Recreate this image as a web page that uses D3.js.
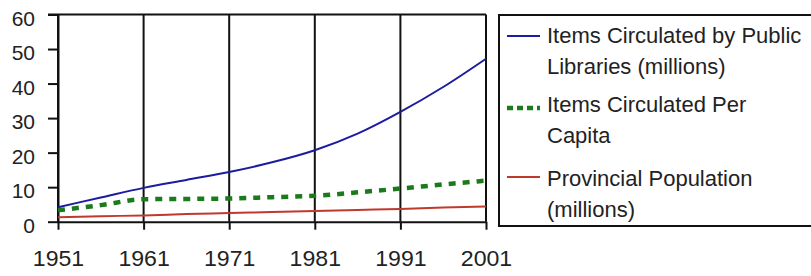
<!DOCTYPE html>
<html>
<head>
	<script src="https://cdn.jsdelivr.net/npm/d3@7"></script>
</head>
<style type="text/css">
body { margin: 0; background: #fff; }
svg text { font-family: "Liberation Sans", Arial, sans-serif; fill: #222; }
.grid line { stroke: #111; stroke-width: 2; }
.axis path, .axis line { stroke: #111; stroke-width: 2; }
</style>
<body>
<div id=chart></div>
<script>

// values
var years        = [1951, 1956, 1961, 1966, 1971, 1976, 1981, 1986, 1991, 1996, 2001];
var libraryItems = [4.2, 7.0, 9.8, 12.1, 14.4, 17.2, 20.7, 25.5, 31.8, 39.0, 47.2];
var perCapita    = [3.3, 4.8, 6.5, 6.6, 6.7, 7.1, 7.5, 8.5, 9.6, 10.8, 11.9];
var population   = [1.3, 1.6, 1.8, 2.2, 2.5, 2.8, 3.1, 3.4, 3.7, 4.1, 4.4];

var xTicks = [1951, 1961, 1971, 1981, 1991, 2001];
var yTicks = [0, 10, 20, 30, 40, 50, 60];

var seriesNames  = ["Items Circulated by Public|Libraries (millions)",
                    "Items Circulated Per|Capita",
                    "Provincial Population|(millions)"];

var W = 811, H = 276;
var svg = d3.select("#chart").append("svg")
	.attr("width", W).attr("height", H);

var x = d3.scaleLinear().domain([1951, 2001]).range([58, 486]);
var y = d3.scaleLinear().domain([0, 60]).range([221.7, 14.5]);

// vertical grid lines at each decade
svg.append("g").attr("class", "grid")
	.selectAll("line").data(xTicks).enter().append("line")
	.attr("x1", function(d) { return x(d); })
	.attr("x2", function(d) { return x(d); })
	.attr("y1", y(60)).attr("y2", y(0));

// top border
svg.append("line")
	.attr("x1", x(1951) - 10).attr("x2", x(2001))
	.attr("y1", y(60)).attr("y2", y(60))
	.attr("stroke", "#111").attr("stroke-width", 2);

// y axis
var yAxis = svg.append("g").attr("class", "axis")
	.attr("transform", "translate(" + x(1951) + ",0)")
	.call(d3.axisLeft(y).tickValues(yTicks).tickSize(10).tickSizeOuter(0).tickPadding(13));
yAxis.selectAll("text").style("font-size", "21px").attr("dy", "0.5em");

// x axis
var xAxis = svg.append("g").attr("class", "axis")
	.attr("transform", "translate(0," + y(0) + ")")
	.call(d3.axisBottom(x).tickValues(xTicks).tickFormat(d3.format("d")).tickSize(8).tickSizeOuter(0).tickPadding(21));
xAxis.selectAll("text").style("font-size", "22px")
	.attr("transform", "scale(1.05,1)")
	.attr("x", 0);
xAxis.selectAll(".tick text").each(function() {
	d3.select(this).attr("transform", "scale(1.05,1)");
});

// lines
var line = function(vals) {
	return d3.line()
		.curve(d3.curveMonotoneX)
		.x(function(d, i) { return x(years[i]); })
		.y(function(d) { return y(d); })(vals);
};

svg.append("path").attr("d", line(population))
	.attr("fill", "none").attr("stroke", "#c0392e").attr("stroke-width", 2);
svg.append("path").attr("d", line(perCapita))
	.attr("fill", "none").attr("stroke", "#1b7a1b").attr("stroke-width", 4.5)
	.attr("stroke-dasharray", "7,7");
svg.append("path").attr("d", line(libraryItems))
	.attr("fill", "none").attr("stroke", "#1c1ca0").attr("stroke-width", 2);

// legend
svg.append("rect")
	.attr("x", 499).attr("y", 15).attr("width", 320).attr("height", 211)
	.attr("fill", "none").attr("stroke", "#111").attr("stroke-width", 2);

var legColors = ["#1c1ca0", "#1b7a1b", "#c0392e"];
var legY      = [36, 108, 177];
var legBase   = [43, 112, 186];
var lg = svg.append("g");
seriesNames.forEach(function(name, i) {
	var ln = lg.append("line")
		.attr("x1", 507).attr("x2", 540)
		.attr("y1", legY[i]).attr("y2", legY[i])
		.attr("stroke", legColors[i])
		.attr("stroke-width", i == 1 ? 4.5 : 2);
	if (i == 1) ln.attr("stroke-dasharray", "6,4");
	var t = lg.append("text")
		.attr("x", 547).attr("y", legBase[i])
		.style("font-size", "22px");
	name.split("|").forEach(function(part, k) {
		t.append("tspan").attr("x", 547).attr("dy", k == 0 ? 0 : 31).text(part);
	});
});

</script>
</body>
</html>
